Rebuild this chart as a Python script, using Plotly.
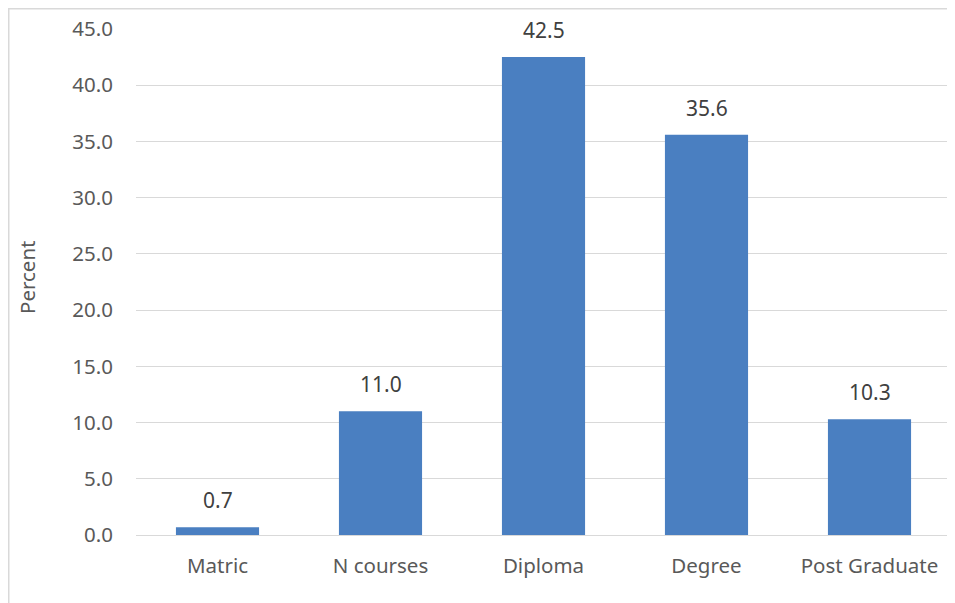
import plotly.graph_objects as go

categories = ["Matric", "N courses", "Diploma", "Degree", "Post Graduate"]
values = [0.7, 11.0, 42.5, 35.6, 10.3]
y_ticks = [0, 5, 10, 15, 20, 25, 30, 35, 40, 45]

W, H = 955, 603
OFF = 8  # page offset of the figure
L, T = 136 - OFF, 29 - OFF
pw = 815
ph = 535 - 29
R = W - L - pw
B = H - T - ph
FONT = "Noto Sans"
FS = 20.5

fig = go.Figure()
fig.add_trace(go.Bar(
    x=categories, y=values,
    marker=dict(color="#4a7fc1", line=dict(width=0)),
    width=0.51,
    hoverinfo="x+y",
))

for c, v in zip(categories, values):
    fig.add_annotation(x=c, y=v, text=f"{v:.1f}", showarrow=False,
                       yanchor="bottom", yshift=11,
                       font=dict(size=21, color="#404040", family=FONT))

fig.add_annotation(xref="paper", yref="paper", x=0, y=0.5, xanchor="center",
                   yanchor="middle", xshift=27 - 136, yshift=5, textangle=-90,
                   text="Percent", showarrow=False,
                   font=dict(size=20.5, color="#595959", family=FONT))

# outer chart frame
fig.add_shape(type="rect", xref="paper", yref="paper",
              x0=(0.75 - L) / pw, x1=(W + 10 - L) / pw,
              y0=-(H + 10 - T - ph) / ph, y1=1 + (T - 0.75) / ph,
              line=dict(color="#d9d9d9", width=1.5), fillcolor="rgba(0,0,0,0)",
              layer="below")

fig.update_layout(
    width=W, height=H,
    margin=dict(l=L, r=R, t=T, b=B, autoexpand=False),
    paper_bgcolor="white", plot_bgcolor="white",
    showlegend=False,
    font=dict(family=FONT, size=FS, color="#595959"),
    xaxis=dict(showgrid=False, showline=False, ticks="", ticklabelstandoff=16,
               automargin=False, tickfont=dict(size=FS, color="#595959")),
    yaxis=dict(range=[0, 45], tickvals=y_ticks, tickformat=".1f",
               automargin=False,
               showgrid=True, gridcolor="#d9d9d9", gridwidth=1.3,
               zeroline=True, zerolinecolor="#d9d9d9", zerolinewidth=1.3,
               showline=False, ticks="", ticklabelstandoff=22,
               tickfont=dict(size=FS, color="#595959")),
)

fig.write_html("out.html")
